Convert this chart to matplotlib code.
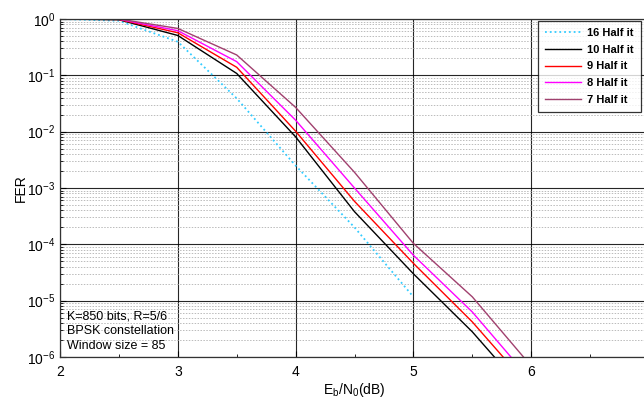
import matplotlib
matplotlib.use("Agg")
import matplotlib.pyplot as plt
from matplotlib.ticker import LogLocator, FixedLocator, NullFormatter

plt.rcParams['font.family'] = ['Liberation Sans', 'DejaVu Sans']
plt.rcParams['mathtext.fontset'] = 'custom'
plt.rcParams['mathtext.rm'] = 'Liberation Sans'
plt.rcParams['mathtext.it'] = 'Liberation Sans'

ebn0_16 = [2.0, 2.5, 3.0, 3.5, 4.0, 4.5, 5.0]
fer_16 = [1.0, 0.93, 0.395, 0.039, 2.5e-3, 2.0e-4, 1.17e-5]

ebn0 = [2.0, 2.5, 3.0, 3.5, 4.0, 4.5, 5.0, 5.5, 6.0]
fer_10 = [1.0, 0.97, 0.51, 0.108, 8.1e-3, 3.8e-4, 3.0e-5, 2.8e-6, 1.8e-7]
fer_9 = [1.0, 0.98, 0.57, 0.139, 1.02e-2, 5.8e-4, 4.6e-5, 4.2e-6, 2.7e-7]
fer_8 = [1.0, 0.99, 0.62, 0.175, 1.6e-2, 1.0e-3, 6.4e-5, 6.3e-6, 3.8e-7]
fer_7 = [1.0, 1.0, 0.68, 0.23, 2.7e-2, 1.9e-3, 1.04e-4, 1.17e-5, 6.9e-7]

labels = ['16 Half it', '10 Half it', '9 Half it', '8 Half it', '7 Half it']
colors = ['#33ccff', '#000000', '#ff0000', '#ff00ff', '#a0406e']
xticks = [2, 3, 4, 5, 6]

fig = plt.figure(figsize=(6.44, 3.99), dpi=100)
ax = fig.add_axes([60/644, 42/399, 589/644, 338/399])

ax.plot(ebn0_16, fer_16, linestyle=':', color=colors[0], lw=1.3, label=labels[0])
for fer, lab, col in zip([fer_10, fer_9, fer_8, fer_7], labels[1:], colors[1:]):
    ax.plot(ebn0, fer, linestyle='-', color=col, lw=1.0, label=lab)

ax.set_yscale('log')
ax.set_xlim(2, 7)
ax.set_ylim(1e-6, 1)

ax.xaxis.set_major_locator(FixedLocator(xticks))
ax.xaxis.set_minor_locator(FixedLocator([2.5, 3.5, 4.5, 5.5, 6.5]))
ax.yaxis.set_minor_locator(LogLocator(base=10, subs=range(2, 10), numticks=20))
ax.yaxis.set_minor_formatter(NullFormatter())
ax.set_yticks([10.0**k for k in range(-6, 1)])
ax.set_yticklabels([r'$\mathregular{10^{%d}}$' % k for k in range(-6, 1)])

ax.tick_params(axis='both', which='major', labelsize=10, direction='in', length=4, width=0.8)
ax.tick_params(axis='both', which='minor', direction='in', length=2, width=0.6)
ax.tick_params(axis='x', pad=6)

ax.grid(True, which='major', axis='both', color='#000000', linestyle='-', linewidth=0.8, alpha=0.85)
ax.axvline(7, color='#000000', lw=0.8)
ax.yaxis.grid(True, which='minor', color='#bbbbbb', linestyle=(0, (1.5, 1.5)), linewidth=0.7)
ax.xaxis.grid(False, which='minor')
ax.set_axisbelow(True)

ax.spines['right'].set_visible(False)
for s in ['left', 'bottom', 'top']:
    ax.spines[s].set_linewidth(0.9)
    ax.spines[s].set_color('#333333')

ax.set_xlabel(r'E$_\mathregular{b}$/N$_\mathregular{0}$(dB)', fontsize=10, labelpad=1)
ax.set_ylabel('FER', fontsize=10)
ax.yaxis.set_label_coords(-0.055, 0.5)

ax.text(2.06, 10**-5.17, 'K=850 bits, R=5/6\nBPSK constellation\nWindow size = 85',
        fontsize=9, va='top', ha='left', linespacing=1.3)

leg = fig.legend(loc='upper left', bbox_to_anchor=(538/644, 1 - 21/399), borderaxespad=0,
                 prop={'weight': 'bold', 'size': 8}, frameon=True, fancybox=False,
                 edgecolor='black', handlelength=3.3, borderpad=0.6, labelspacing=0.62,
                 handletextpad=0.55)
leg.get_frame().set_linewidth(0.9)

fig.savefig('out.png', dpi=100)
